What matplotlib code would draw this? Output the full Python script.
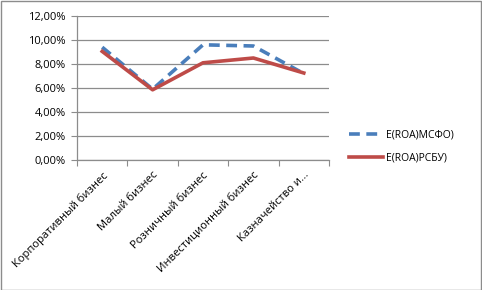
import matplotlib
matplotlib.use("Agg")
import matplotlib.pyplot as plt
from matplotlib.ticker import FuncFormatter, FixedLocator
from matplotlib.patches import Rectangle

categories = ["Корпоративный бизнес", "Малый бизнес", "Розничный бизнес",
              "Инвестиционный бизнес", "Казначейство и..."]
msfo = [9.4, 5.9, 9.6, 9.5, 7.2]
rsbu = [9.05, 5.85, 8.1, 8.5, 7.25]
series_names = ["E(ROA)МСФО)", "E(ROA)РСБУ)"]
yticks = [0, 2, 4, 6, 8, 10, 12]

plt.rcParams['font.family'] = ['Open Sans', 'DejaVu Sans']
W, H = 482, 290
fig = plt.figure(figsize=(W/100, H/100), dpi=100)
fig.patches.append(Rectangle((0.5/W, 0.5/H), 1 - 1.5/W, 1 - 1.5/H, transform=fig.transFigure,
                             fill=False, edgecolor="#8c8c8c", linewidth=1.0))

left, right = 77, 329
top, bottom = 16, 160
ax = fig.add_axes([left/W, 1 - bottom/H, (right-left)/W, (bottom-top)/H])

x = list(range(len(categories)))
ax.plot(x, msfo, color="#4a7ebb", linewidth=2.6, linestyle=(0, (3, 1.8)), label=series_names[0])
ax.plot(x, rsbu, color="#be4b48", linewidth=2.6, label=series_names[1])

ax.set_xlim(-0.5, len(categories) - 0.5)
ax.set_ylim(0, 12)
ax.set_yticks(yticks)
ax.yaxis.set_major_formatter(FuncFormatter(lambda v, p: f"{v:.2f}%".replace(".", ",")))
ax.grid(axis="y", color="#8c8c8c", linewidth=0.9)
ax.set_axisbelow(True)

ax.xaxis.set_major_locator(FixedLocator([i - 0.5 for i in range(len(categories) + 1)]))
ax.set_xticklabels([])
ax.xaxis.set_minor_locator(FixedLocator(x))
ax.set_xticklabels(categories, minor=True, rotation=45, ha="right", rotation_mode="anchor", fontsize=8)
ax.tick_params(axis="x", which="minor", length=0, pad=7)
ax.tick_params(axis="x", which="major", length=4, color="#8c8c8c", direction="out")
ax.tick_params(axis="y", length=4, color="#8c8c8c", labelsize=8, pad=4)

for s in ["top", "right"]:
    ax.spines[s].set_visible(False)
for s in ["left", "bottom"]:
    ax.spines[s].set_color("#8c8c8c")
    ax.spines[s].set_linewidth(0.9)

leg = fig.legend(loc="upper left", bbox_to_anchor=(340/W, 1 - 120/H), frameon=False,
                 fontsize=7.5, handlelength=3.2, handletextpad=0.3, labelspacing=1.2)

fig.savefig("out.png", dpi=100)
